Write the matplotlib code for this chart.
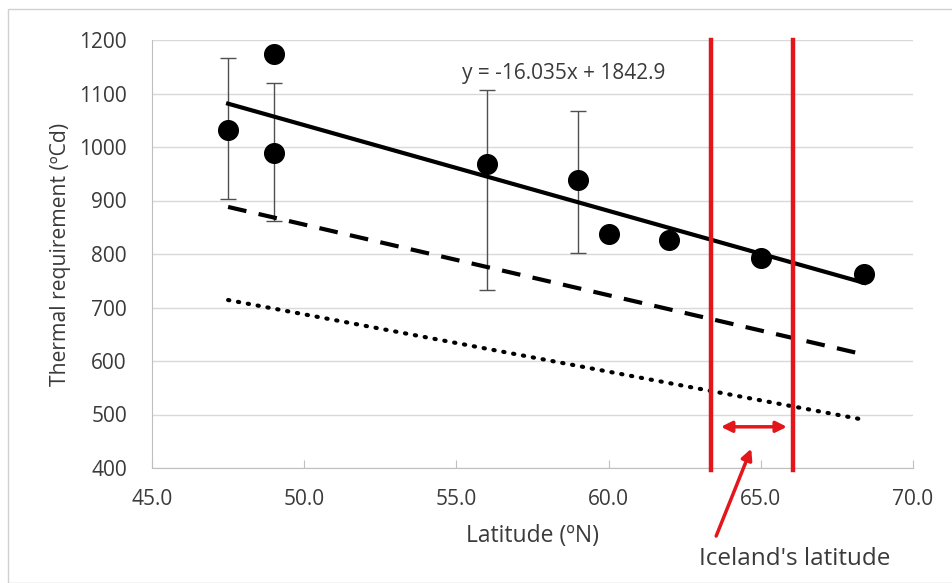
import matplotlib
matplotlib.use('Agg')
import matplotlib.pyplot as plt
from matplotlib.patches import Rectangle

plt.rcParams['font.family'] = ['Open Sans', 'DejaVu Sans']

# observed thermal requirement per site
latitude = [47.5, 49.0, 49.0, 56.0, 59.0, 60.0, 62.0, 65.0, 68.4]
thermal = [1032, 1173, 988, 969, 939, 838, 826, 793, 763]

# error bars (only four sites have them)
err_x = [47.5, 49.0, 56.0, 59.0]
err_mid = [1032, 988, 969, 939]
err_low = [903, 862, 733, 801]
err_high = [1167, 1119, 1106, 1068]

# trend lines, read at their end points
trend_x = [47.5, 68.4]
trend_solid = [1081, 746]
trend_dashed = [888, 612]
trend_dotted = [714, 490]

iceland_lat = [63.35, 66.05]

TXT = '#3a3a3a'
RED = '#e3161b'

fig = plt.figure(figsize=(9.52, 5.83), dpi=100)
fig.patches.append(Rectangle((8 / 952, 0), 1, 1 - 9 / 583, transform=fig.transFigure,
                             fill=False, edgecolor='#d0d0d0', linewidth=1))
ax = fig.add_axes([152 / 952, 1 - 468 / 583, 761 / 952, 428 / 583])

ax.set_xlim(45, 70)
ax.set_ylim(400, 1200)
ax.set_xticks([45, 50, 55, 60, 65, 70])
ax.set_xticklabels([f'{v:.1f}' for v in [45, 50, 55, 60, 65, 70]])
ax.set_yticks(range(400, 1201, 100))

ax.grid(axis='y', color='#d9d9d9', linewidth=1)
ax.set_axisbelow(True)
for s in ['top', 'right']:
    ax.spines[s].set_visible(False)
for s in ['left', 'bottom']:
    ax.spines[s].set_color('#bfbfbf')
ax.tick_params(axis='x', direction='in', length=6, color='#bfbfbf', pad=15,
               labelsize=15, labelcolor=TXT)
ax.tick_params(axis='y', length=0, pad=18, labelsize=15, labelcolor=TXT)

# error bars
lo = [m - l for m, l in zip(err_mid, err_low)]
hi = [h - m for m, h in zip(err_mid, err_high)]
ax.errorbar(err_x, err_mid, yerr=[lo, hi], fmt='none', ecolor='#505050',
            elinewidth=1, capsize=6, capthick=1, zorder=2)

ax.plot(trend_x, trend_solid, color='black', linewidth=3, zorder=3)
ax.plot(trend_x, trend_dashed, color='black', linewidth=3, dashes=(4.5, 3), zorder=3)
ax.plot(trend_x, trend_dotted, color='black', linewidth=3, dashes=(0.3, 2.1),
        dash_capstyle='round', zorder=3)

ax.scatter(latitude, thermal, s=200, color='black', zorder=4)

ax.text(55.2, 1138, 'y = -16.035x + 1842.9', fontsize=15, color=TXT, va='center')

# Iceland band
for x in iceland_lat:
    ax.plot([x, x], [396, 1200], color=RED, linewidth=3.2, clip_on=False, zorder=5)
ax.annotate('', xy=(63.6, 477), xytext=(65.95, 477),
            arrowprops=dict(arrowstyle='<|-|>', color=RED, lw=2.5, mutation_scale=16))
ax.annotate('', xy=(64.72, 441), xytext=(63.5, 268), annotation_clip=False,
            arrowprops=dict(arrowstyle='-|>', color=RED, lw=2.5, mutation_scale=16))
ax.text(66.1, 230, "Iceland's latitude", fontsize=17.5, color=TXT,
        ha='center', va='center', clip_on=False)

ax.set_xlabel('Latitude (ºN)', fontsize=16.5, color=TXT, labelpad=10)
ax.set_ylabel('Thermal requirement (ºCd)', fontsize=15.2, color=TXT)
ax.yaxis.set_label_coords(-0.106, 0.5)

fig.savefig('out.png', dpi=100)
